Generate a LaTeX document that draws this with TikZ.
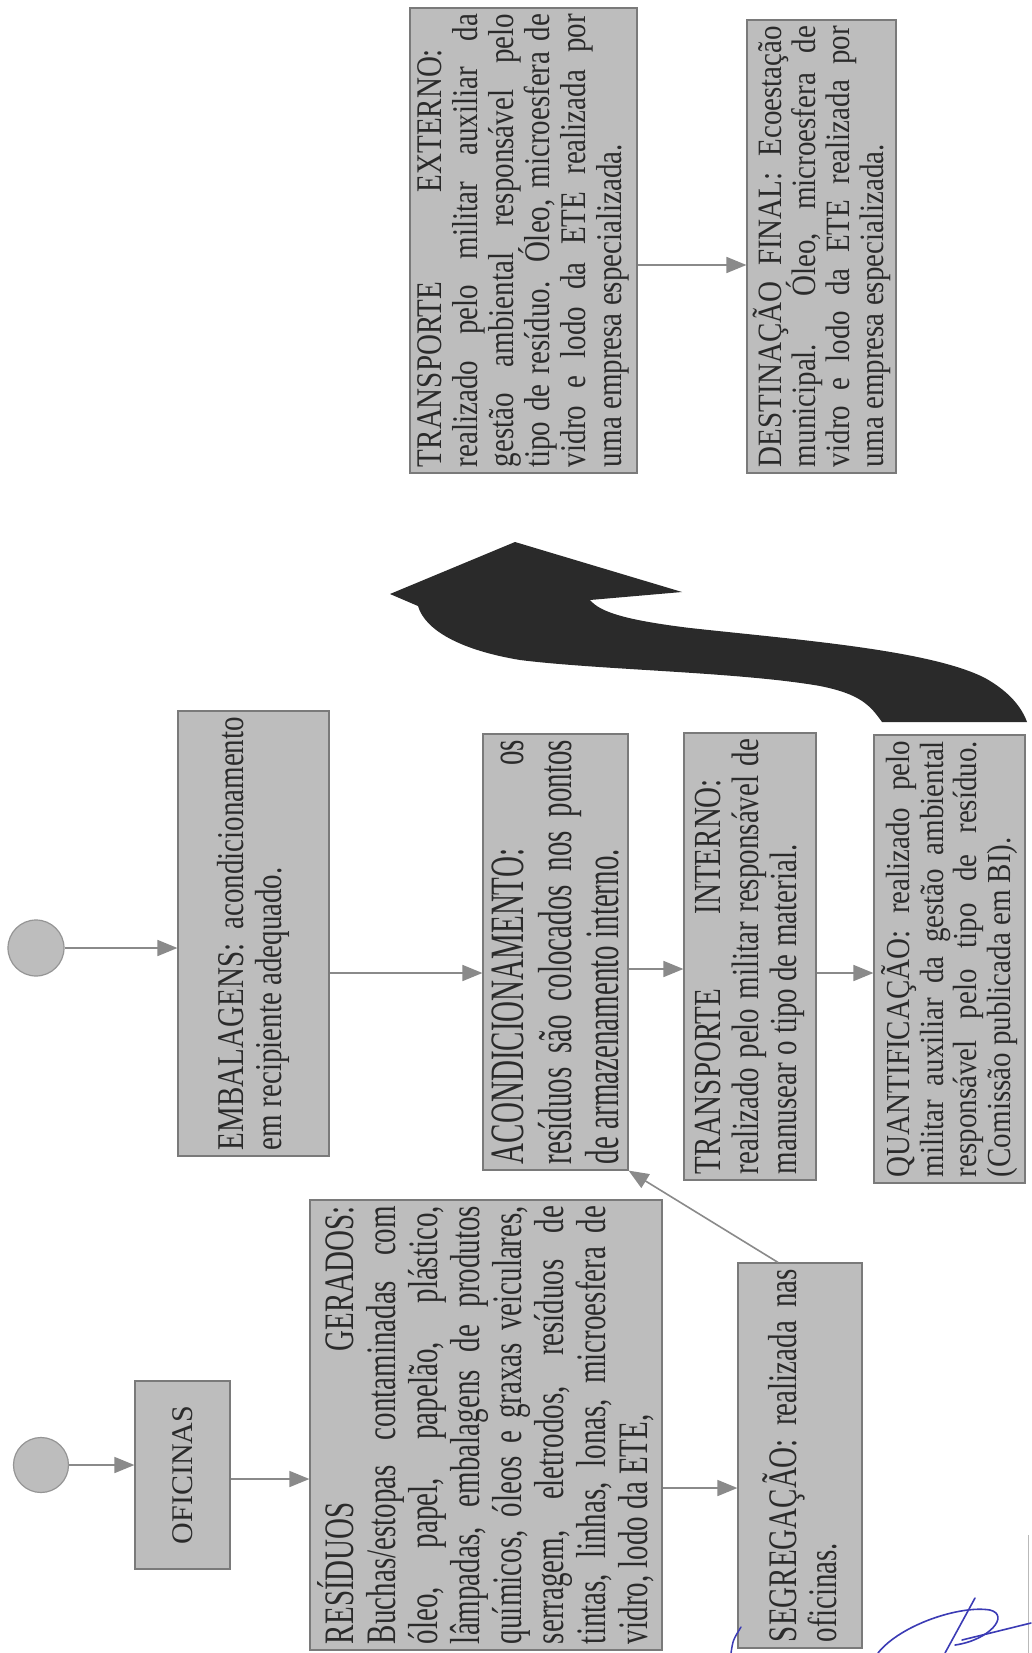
\documentclass[tikz,border=0pt]{standalone}
\usepackage{fontspec}
\setmainfont{Liberation Serif}
\usetikzlibrary{arrows.meta,calc}
\definecolor{boxfill}{HTML}{BDBDBD}
\definecolor{boxline}{HTML}{7A7A7A}
\definecolor{arrowc}{HTML}{8A8A8A}
\definecolor{txt}{HTML}{2B2B2B}
\definecolor{inkblue}{HTML}{3B3BB5}
\definecolor{bigarrow}{HTML}{2A2A2A}
\newcommand\vtext[3]{\rotatebox{90}{\resizebox*{#1pt}{#2pt}{\parbox{#1pt}{\fontsize{29}{29}\selectfont\lineskiplimit=-100pt\relax\parindent=0pt #3}}}}
\newcommand\jline[1]{\makebox[\linewidth][s]{#1}\par}
\newcommand\lline[1]{\makebox[\linewidth][l]{#1}\par}
\begin{document}
\begin{tikzpicture}[x=1pt,y=-1pt,
  box/.style={draw=boxline, fill=boxfill, line width=1.2pt, inner sep=0pt, text=txt, rectangle},
  circ/.style={circle, draw=boxline!80, fill=boxfill, line width=1.2pt, inner sep=0pt},
  arr/.style={draw=arrowc, line width=1.6pt, -{Triangle[length=20pt,width=16pt]}},
  ink/.style={draw=inkblue, line width=1.6pt, line cap=round}]
\useasboundingbox[fill=white] (0,0) rectangle (1031,1653);

% boxes
\node[box, minimum width=95pt, minimum height=188pt] (of) at (182.5,1475)
  {\rotatebox{90}{\fontsize{30}{30}\selectfont OFICINAS}};
\node[box, minimum width=352pt, minimum height=450pt] (res) at (486,1425)
  {\vtext{438}{336}{%
  \jline{RESÍDUOS GERADOS:}
  \jline{Buchas/estopas contaminadas com}
  \jline{óleo, papel, papelão, plástico,}
  \jline{lâmpadas, embalagens de produtos}
  \jline{químicos, óleos e graxas veiculares,}
  \jline{serragem, eletrodos, resíduos de}
  \jline{tintas, linhas, lonas, microesfera de}
  \lline{vidro, lodo da ETE,}}};
\node[box, minimum width=124pt, minimum height=385pt] (seg) at (800,1455.5)
  {\vtext{373}{75}{%
  \jline{SEGREGAÇÃO: realizada nas}
  \lline{oficinas.}}};
\node[box, minimum width=151pt, minimum height=445pt] (emb) at (253.5,933.5)
  {\vtext{433}{72}{%
  \jline{EMBALAGENS: acondicionamento}
  \lline{em recipiente adequado.}}};
\node[box, minimum width=145pt, minimum height=436pt] (acond) at (555.5,952)
  {\vtext{424}{128}{%
  \jline{ACONDICIONAMENTO: os}
  \jline{resíduos são colocados nos pontos}
  \lline{de armazenamento interno.}}};
\node[box, minimum width=132pt, minimum height=447pt] (ti) at (750,956.5)
  {\vtext{435}{110}{%
  \jline{TRANSPORTE INTERNO:\hspace{40pt}}
  \jline{realizado pelo militar responsável de}
  \lline{manusear o tipo de material.}}};
\node[box, minimum width=151pt, minimum height=448pt] (quant) at (949.5,959)
  {\vtext{436}{136}{%
  \jline{QUANTIFICAÇÃO: realizado pelo}
  \jline{militar auxiliar da gestão ambiental}
  \jline{responsável pelo tipo de resíduo.}
  \lline{(Comissão publicada em BI).}}};
\node[box, minimum width=227pt, minimum height=465pt] (te) at (523.5,240.5)
  {\vtext{453}{212}{%
  \jline{TRANSPORTE EXTERNO:\hspace{35pt}}
  \jline{realizado pelo militar auxiliar da}
  \jline{gestão ambiental responsável pelo}
  \jline{tipo de resíduo. Óleo, microesfera de}
  \jline{vidro e lodo da ETE realizada por}
  \lline{uma empresa especializada.}}};
\node[box, minimum width=149pt, minimum height=453pt] (df) at (821.5,246.5)
  {\vtext{441}{138}{%
  \jline{DESTINAÇÃO FINAL: Ecoestação}
  \jline{municipal. Óleo, microesfera de}
  \jline{vidro e lodo da ETE realizada por}
  \lline{uma empresa especializada.}}};

% start circles
\node[circ, minimum size=55pt] (ca) at (41,1465) {};
\node[circ, minimum size=56pt] (cb) at (36,948) {};

% connectors
\draw[arr] (ca.east) -- (ca.east -| of.west);
\draw[arr] (of.east |- 0,1479) -- (res.west |- 0,1479);
\draw[arr] (res.east |- 0,1488) -- (seg.west |- 0,1488);
\draw[arr] (seg.north -| 778,0) -- (acond.south east);
\draw[arr] (cb.east) -- (cb.east -| emb.west);
\draw[arr] (emb.east |- 0,973) -- (acond.west |- 0,973);
\draw[arr] (acond.east |- 0,969) -- (ti.west |- 0,969);
\draw[arr] (ti.east |- 0,973) -- (quant.west |- 0,973);
\draw[arr] (te.east |- 0,265) -- (df.west |- 0,265);

% big curved arrow
\fill[bigarrow] (515,542) -- (682,592) -- (590,600)
  .. controls (600,612) and (625,620) .. (690,628)
  .. controls (800,640) and (930,650) .. (985,678)
  .. controls (1010,692) and (1022,708) .. (1027,722)
  -- (882,722)
  .. controls (870,705) and (860,694) .. (820,686)
  .. controls (740,672) and (600,670) .. (520,660)
  .. controls (460,650) and (425,630) .. (418,606)
  -- (390,594) -- cycle;

% page edge and ink marks
\draw[gray!55, line width=1pt] (1028,1535) -- (1028,1653);
\draw[ink, line width=1.5pt] (731,1653) .. controls (733,1640) .. (741,1627);
\draw[ink] (878,1653) .. controls (900,1625) and (960,1605) .. (990,1610) .. controls (1010,1615) and (990,1640) .. (955,1645);
\draw[ink] (945,1653) -- (975,1598);
\draw[ink] (962,1640) -- (1031,1623);
\end{tikzpicture}
\end{document}
